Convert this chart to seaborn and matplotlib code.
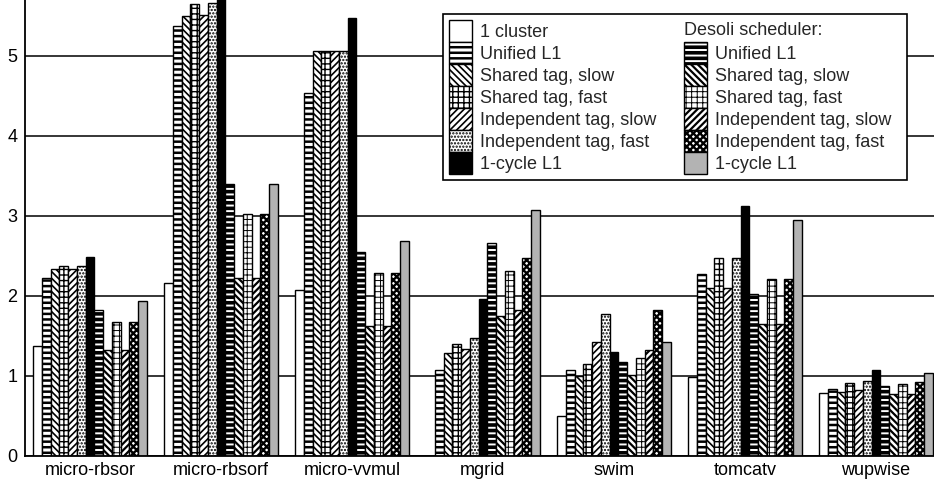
import numpy as np
import pandas as pd
import matplotlib.pyplot as plt
import matplotlib.patches as mpatches
import seaborn as sns

# benchmarks on the x axis
benchmarks = ["micro-rbsor", "micro-rbsorf", "micro-vvmul", "mgrid", "swim", "tomcatv", "wupwise"]

# one list per configuration
one_cluster     = [1.38, 2.16, 2.08, np.nan, 0.50, 0.99, 0.79]
unified_l1      = [2.22, 5.38, 4.54, 1.07, 1.07, 2.27, 0.84]
shared_slow     = [2.34, 5.50, 5.06, 1.29, 1.00, 2.10, 0.80]
shared_fast     = [2.38, 5.65, 5.06, 1.40, 1.15, 2.48, 0.91]
indep_slow      = [2.34, 5.51, 5.06, 1.34, 1.43, 2.10, 0.82]
indep_fast      = [2.38, 5.66, 5.06, 1.47, 1.78, 2.48, 0.94]
one_cycle       = [2.49, 5.85, 5.47, 1.96, 1.30, 3.13, 1.07]
des_unified_l1  = [1.82, 3.40, 2.55, 2.66, 1.17, 2.03, 0.88]
des_shared_slow = [1.32, 2.22, 1.63, 1.75, 1.01, 1.65, 0.77]
des_shared_fast = [1.68, 3.03, 2.29, 2.31, 1.22, 2.21, 0.90]
des_indep_slow  = [1.32, 2.22, 1.63, 1.83, 1.32, 1.65, 0.78]
des_indep_fast  = [1.68, 3.03, 2.29, 2.48, 1.82, 2.21, 0.93]
des_one_cycle   = [1.94, 3.40, 2.69, 3.08, 1.43, 2.95, 1.04]

labels = ["1 cluster", "Unified L1", "Shared tag, slow", "Shared tag, fast",
          "Independent tag, slow", "Independent tag, fast", "1-cycle L1"]
des_labels = ["Unified L1", "Shared tag, slow", "Shared tag, fast",
              "Independent tag, slow", "Independent tag, fast", "1-cycle L1"]

series = [one_cluster, unified_l1, shared_slow, shared_fast, indep_slow, indep_fast, one_cycle,
          des_unified_l1, des_shared_slow, des_shared_fast, des_indep_slow, des_indep_fast,
          des_one_cycle]
keys = labels + ["Desoli " + l for l in des_labels]

# look of each configuration: (face colour, hatch, hatch line width)
styles = [("white", "", 1.0),
          ("white", "---", 1.8),
          ("white", "\\\\\\\\\\", 1.2),
          ("white", "+++", 1.0),
          ("white", "/////", 1.2),
          ("white", ".....", 1.1),
          ("black", "", 1.0),
          ("white", "---", 2.6),
          ("white", "\\\\\\\\\\", 1.6),
          ("white", "+++", 0.7),
          ("white", "/////", 1.6),
          ("white", "xxxxx", 1.7),
          ("#b3b3b3", "", 1.0)]

rows = []
for key, vals in zip(keys, series):
    for b, v in zip(benchmarks, vals):
        rows.append({"benchmark": b, "config": key, "value": v})
df = pd.DataFrame(rows)

sns.set_theme(style="white")
plt.rcParams["font.family"] = ["Liberation Sans", "DejaVu Sans"]
plt.rcParams["hatch.color"] = "black"
plt.rcParams["hatch.linewidth"] = 1.2

fig = plt.figure(figsize=(9.34, 4.82), dpi=100)
ax = fig.add_axes([24.5 / 934, 26 / 482, (934 - 24.5) / 934, 456 / 482])

palette = {k: s[0] for k, s in zip(keys, styles)}
sns.barplot(data=df, x="benchmark", y="value", hue="config", hue_order=keys,
            order=benchmarks, palette=palette, saturation=1, width=0.87, gap=0,
            errorbar=None, edgecolor="black", linewidth=1.0, legend=False, ax=ax)

for cont, (fc, hatch, hlw) in zip(ax.containers, styles):
    for bar in cont:
        bar.set_hatch(hatch)
        if hasattr(bar, "set_hatch_linewidth"):
            bar.set_hatch_linewidth(hlw)

ax.set_xlim(-0.5, 6.443)
ax.set_ylim(0, 5.7)
ax.set_yticks([0, 1, 2, 3, 4, 5])
ax.set_xlabel("")
ax.set_ylabel("")
ax.yaxis.grid(True, color="black", linewidth=1.1)
ax.xaxis.grid(False)
ax.set_axisbelow(True)
for side in ["top", "right"]:
    ax.spines[side].set_visible(False)
for side in ["left", "bottom"]:
    ax.spines[side].set_color("black")
    ax.spines[side].set_linewidth(1.3)
ax.tick_params(axis="both", length=0, labelsize=13, colors="black")
ax.tick_params(axis="y", pad=5)
ax.tick_params(axis="x", pad=4)

# legend: two columns, the second headed by "Desoli scheduler:"
handles = []
for fc, hatch, hlw in styles[:7]:
    handles.append(mpatches.Patch(facecolor=fc, edgecolor="black", hatch=hatch, linewidth=1.0))
handles.append(mpatches.Patch(facecolor="none", edgecolor="none"))
for fc, hatch, hlw in styles[7:]:
    handles.append(mpatches.Patch(facecolor=fc, edgecolor="black", hatch=hatch, linewidth=1.0))
leg_labels = labels + [""] + [l + "  " if "slow" in l and "Indep" in l else l for l in des_labels]

leg = ax.legend(handles, leg_labels, ncol=2, loc="upper left",
                bbox_to_anchor=(443 / 934, 1 - 14 / 482), bbox_transform=fig.transFigure,
                borderaxespad=0, fontsize=13, frameon=True, fancybox=False, framealpha=1,
                edgecolor="black", handlelength=1.27, handleheight=1.49, labelspacing=0,
                handletextpad=0.44, columnspacing=1.5, borderpad=0.35)
leg.get_frame().set_linewidth(1.2)
hstyles = styles[:7] + [("none", "", 1.0)] + styles[7:]
for h, (fc, hatch, hlw) in zip(leg.legend_handles, hstyles):
    if hasattr(h, "set_hatch_linewidth"):
        h.set_hatch_linewidth(hlw)

fig.canvas.draw()
r = fig.canvas.get_renderer()
hx = leg.legend_handles[8].get_window_extent(r).x0
ty = leg.get_texts()[0].get_window_extent(r).y0
fx, fy = fig.transFigure.inverted().transform((hx, ty + 2))
fig.text(fx, fy, "Desoli scheduler:", fontsize=13, ha="left", va="bottom", zorder=10)

plt.savefig("out.png", dpi=100)
